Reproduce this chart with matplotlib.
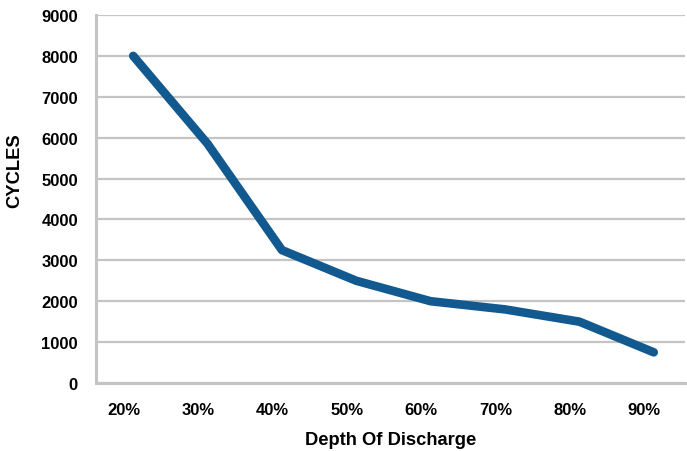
import matplotlib
matplotlib.use("Agg")
import matplotlib.pyplot as plt

categories = ["20%", "30%", "40%", "50%", "60%", "70%", "80%", "90%"]
cycles = [8000, 5850, 3250, 2500, 2000, 1800, 1500, 750]
y_ticks = [0, 1000, 2000, 3000, 4000, 5000, 6000, 7000, 8000, 9000]

plt.rcParams['font.family'] = ['Liberation Sans', 'DejaVu Sans']

fig = plt.figure(figsize=(6.87, 4.52), dpi=100)
ax = fig.add_axes([96/687, 1-384/452, 589/687, 368/452])

x = list(range(len(categories)))
ax.plot(x, cycles, color="#11598f", linewidth=6.2, solid_capstyle="round",
        solid_joinstyle="round", zorder=3)

ax.set_xlim(-0.5, 7.42)
ax.set_ylim(0, 9000)
ax.set_yticks(y_ticks)
ax.set_yticklabels([str(v) for v in y_ticks], fontsize=12, fontweight="bold")
label_shift = 0.13  # labels sit slightly left of the points, as in the reference
ax.set_xticks([i - label_shift for i in x])
ax.set_xticklabels(categories, fontsize=12, fontweight="bold")

ax.tick_params(axis="both", length=0)
ax.tick_params(axis="x", pad=14)
ax.tick_params(axis="y", pad=13)

ax.grid(axis="y", color="#c4c4c4", linewidth=1.6)
ax.set_axisbelow(True)
for s in ["top", "right"]:
    ax.spines[s].set_visible(False)
for s in ["left", "bottom"]:
    ax.spines[s].set_color("#c4c4c4")
    ax.spines[s].set_linewidth(2.2)

ax.set_xlabel("Depth Of Discharge", fontsize=13.2, fontweight="bold", labelpad=10)
ax.set_ylabel("CYCLES", fontsize=13.2, fontweight="bold")
ax.yaxis.set_label_coords(-0.124, 0.58)

fig.savefig("out.png", dpi=100)
